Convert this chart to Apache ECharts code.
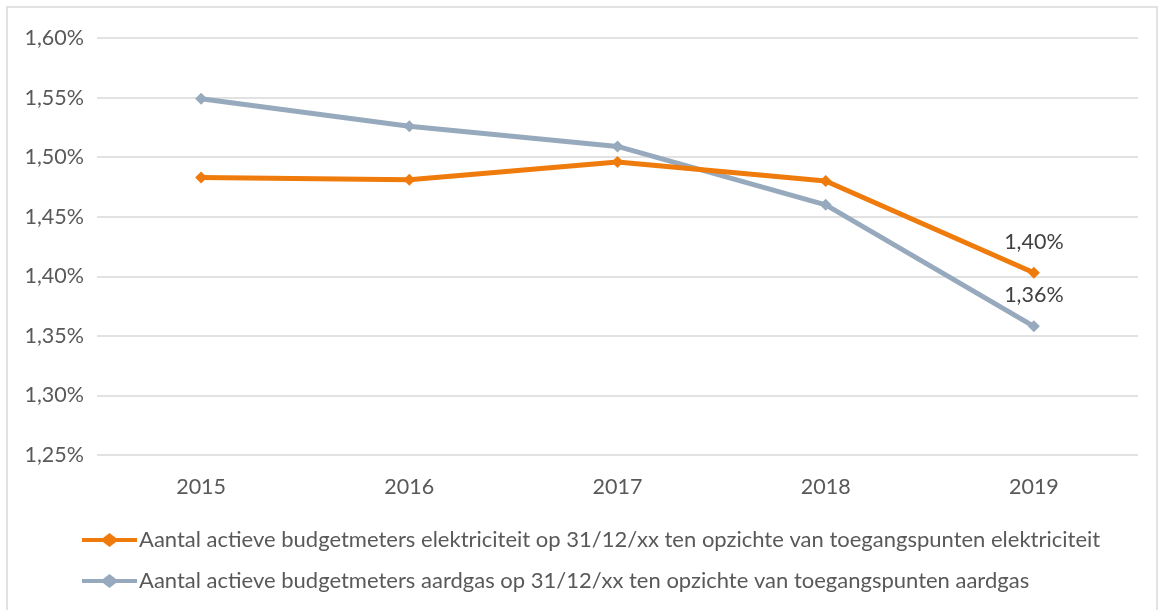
<!DOCTYPE html>
<html>
<head>
<meta charset="utf-8">
<script src="https://cdn.jsdelivr.net/npm/echarts@6/dist/echarts.min.js"></script>
<style>
  html,body{margin:0;padding:0;background:#fff;}
  #container{width:1161px;height:610px;}
</style>
</head>
<body>
<div id="container"></div>
<script>
var years = ['2015', '2016', '2017', '2018', '2019'];
var elekName = 'Aantal actieve budgetmeters elektriciteit op 31/12/xx ten opzichte van toegangspunten elektriciteit';
var gasName = 'Aantal actieve budgetmeters aardgas op 31/12/xx ten opzichte van toegangspunten aardgas';
var elek = [1.483, 1.481, 1.496, 1.480, 1.403];
var gas = [1.549, 1.526, 1.509, 1.460, 1.358];

var txt = '#595959';
var font = 'Lato';
var fs = 21.5;
// line + diamond legend icon
var legIcon = 'path://M0,5 L21,5 L27.5,0 L34,5 L55,5 L55,9 L34,9 L27.5,14 L21,9 L0,9 Z';

function pct(v) {
    return v.toFixed(2).replace('.', ',') + '%';
}

var dom = document.getElementById("container");
var myChart = echarts.init(dom);
var option = {
    backgroundColor: '#fff',
    textStyle: { fontFamily: font },
    graphic: [{
        type: 'rect',
        shape: { x: 7, y: 7, width: 1150, height: 610 },
        style: { fill: 'none', stroke: '#d9d9d9', lineWidth: 1.5 },
        silent: true
    }],
    grid: { left: 97, right: 23, top: 38, bottom: 155 },
    legend: {
        orient: 'vertical',
        left: 77,
        top: 524,
        itemGap: 19,
        itemWidth: 55,
        itemHeight: 14,
        textStyle: { color: txt, fontSize: 22, fontFamily: font, padding: [0, 0, 0, -3] },
        data: [
            { name: elekName, icon: legIcon },
            { name: gasName, icon: legIcon }
        ]
    },
    xAxis: {
        type: 'category',
        data: years,
        boundaryGap: true,
        axisLine: { show: false },
        axisTick: { show: false },
        axisLabel: { color: txt, fontSize: fs, margin: 21, fontFamily: font }
    },
    yAxis: {
        type: 'value',
        min: 1.25,
        max: 1.60,
        interval: 0.05,
        axisLine: { show: false },
        axisTick: { show: false },
        splitLine: { lineStyle: { color: '#d9d9d9', width: 1.5 } },
        axisLabel: { color: txt, fontSize: fs, margin: 13, fontFamily: font, formatter: function (v) { return pct(v); } }
    },
    series: [{
        name: elekName,
        type: 'line',
        data: elek,
        color: '#ef7b0c',
        symbol: 'diamond',
        symbolSize: 12,
        lineStyle: { width: 5 },
        label: {
            show: true,
            position: 'top',
            distance: 14,
            color: '#404040',
            fontSize: fs,
            fontFamily: font,
            formatter: function (p) { return p.dataIndex === elek.length - 1 ? pct(p.value) : ''; }
        },
        z: 3
    }, {
        name: gasName,
        type: 'line',
        data: gas,
        color: '#97aabd',
        symbol: 'diamond',
        symbolSize: 12,
        lineStyle: { width: 5 },
        label: {
            show: true,
            position: 'top',
            distance: 14,
            color: '#404040',
            fontSize: fs,
            fontFamily: font,
            formatter: function (p) { return p.dataIndex === gas.length - 1 ? pct(p.value) : ''; }
        },
        z: 2
    }]
};
myChart.setOption(option, true);
</script>
</body>
</html>
